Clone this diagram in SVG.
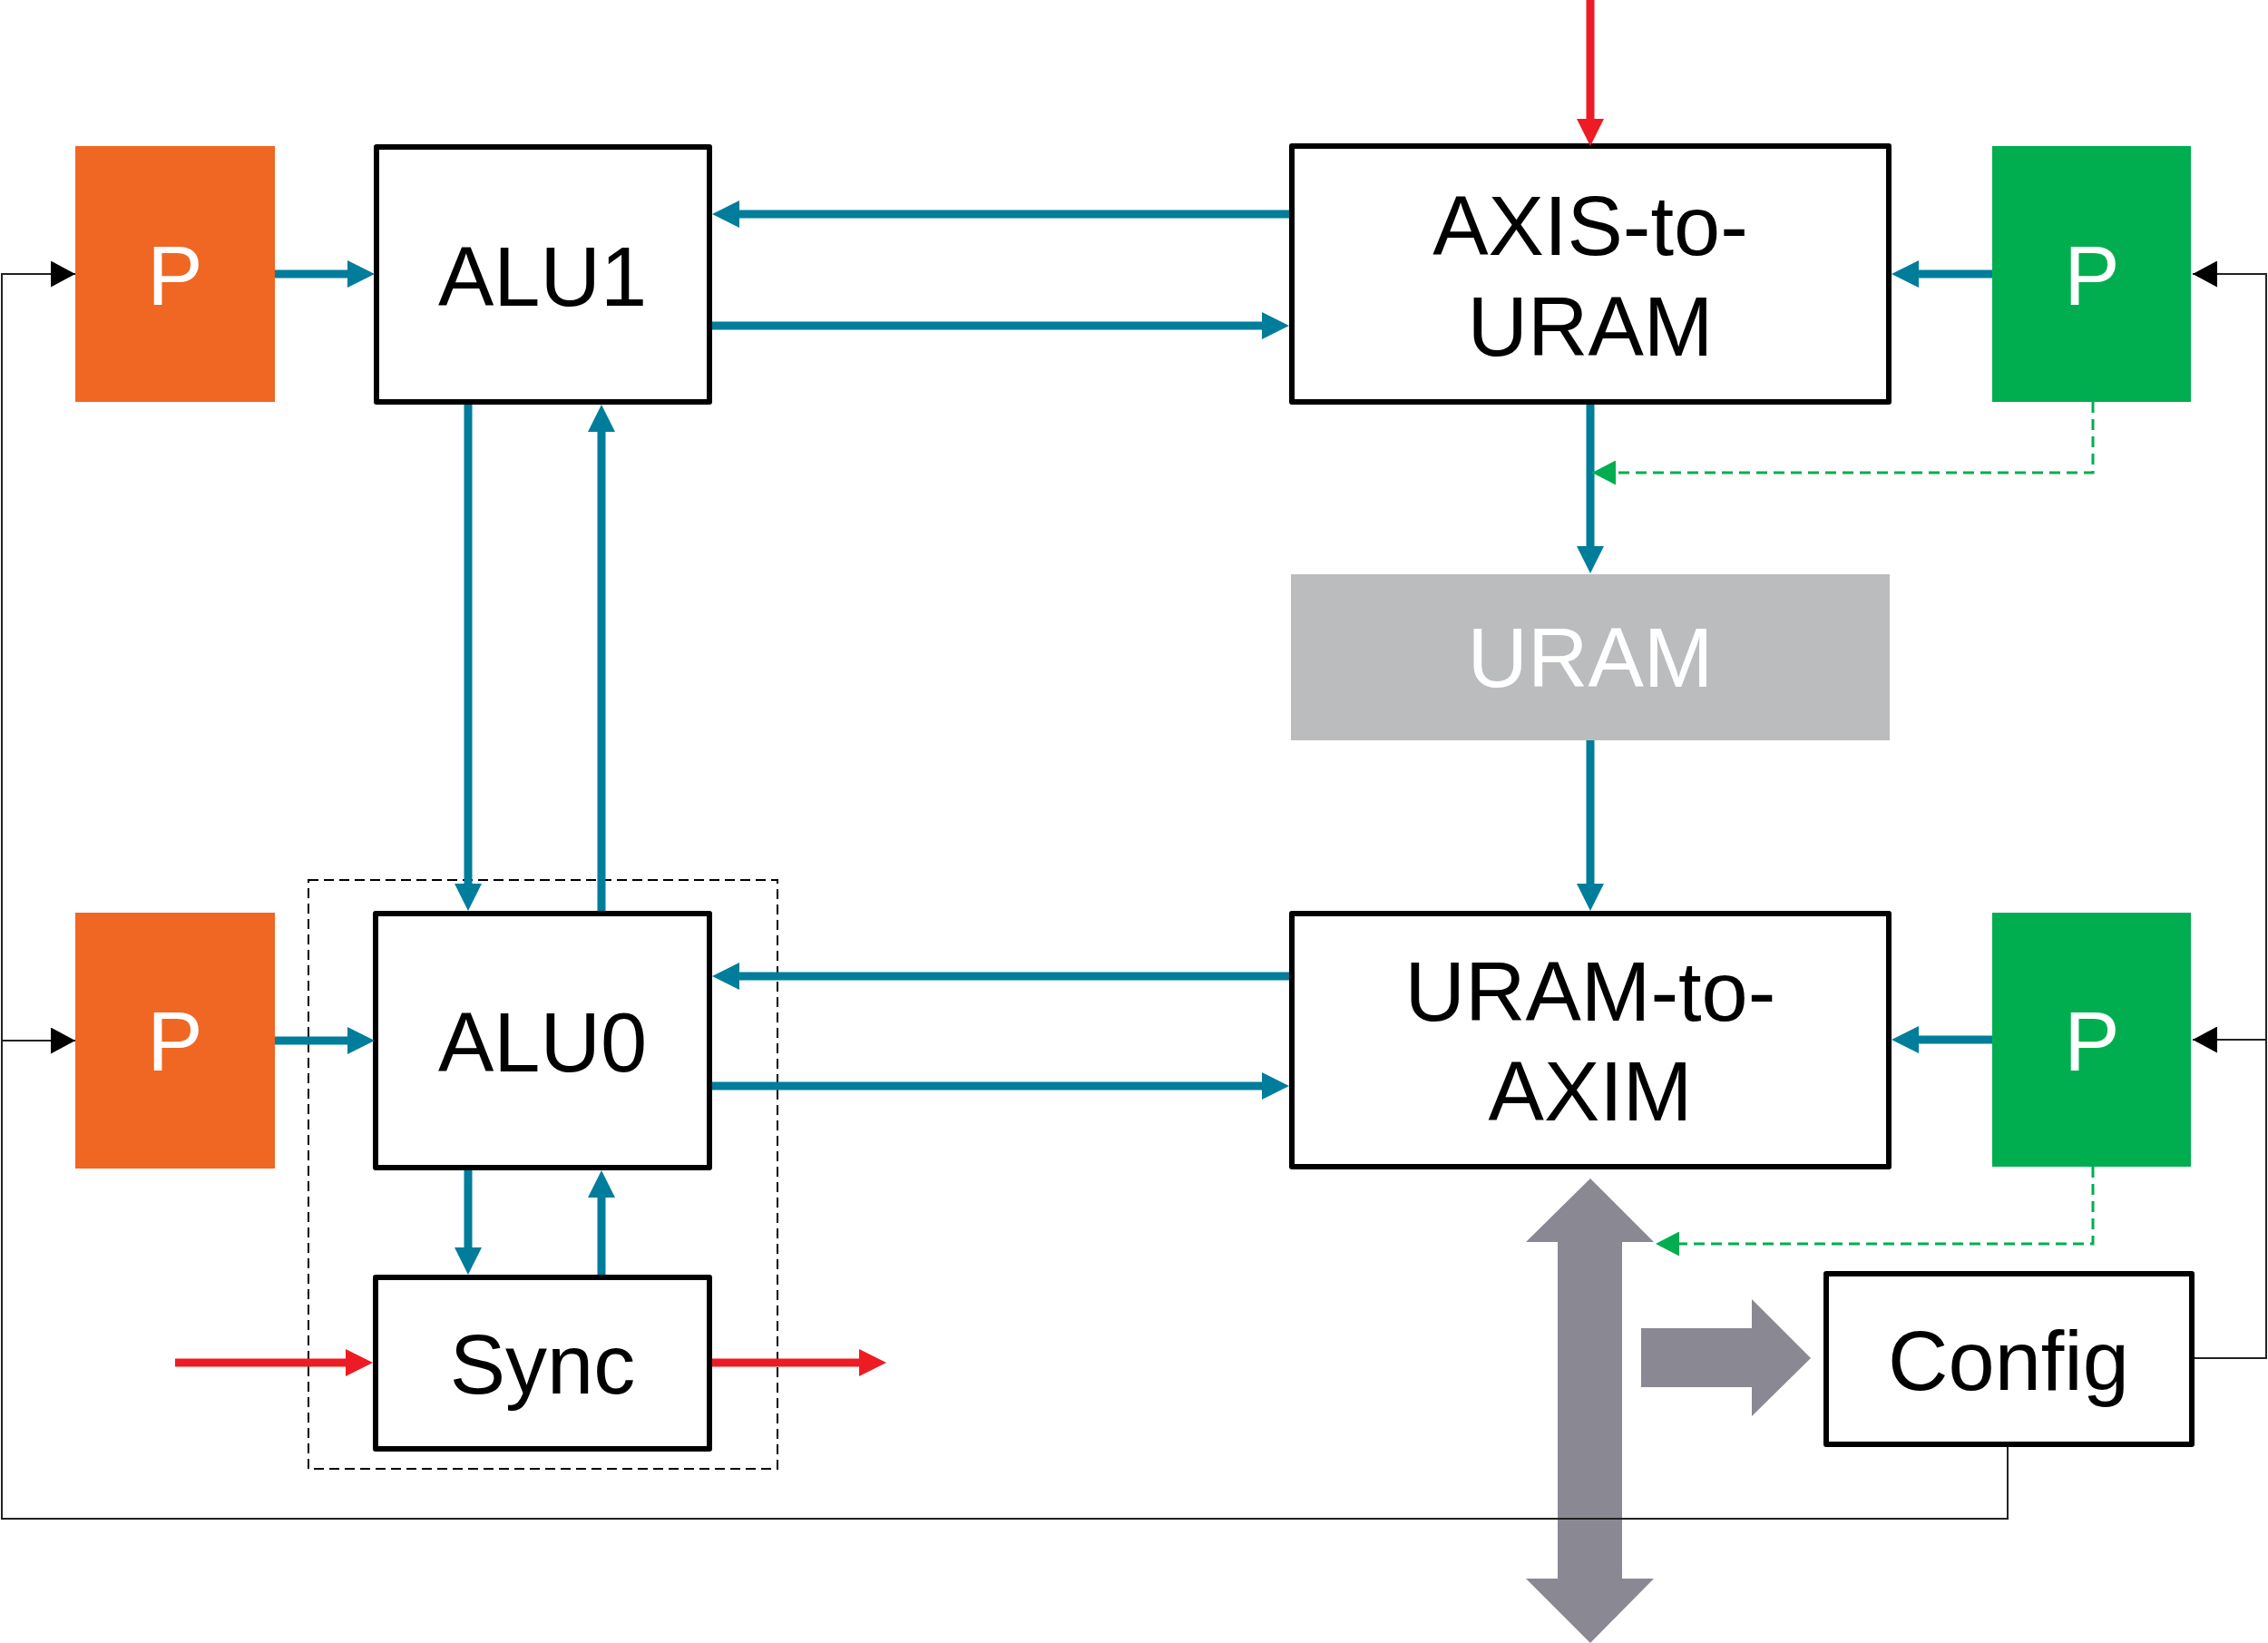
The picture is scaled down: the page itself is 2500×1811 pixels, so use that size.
<svg xmlns="http://www.w3.org/2000/svg" width="2500" height="1811" viewBox="0 0 2500 1811">
<defs>
<style>
.box{fill:#fff;stroke:#000;stroke-width:6;stroke-linejoin:round}
.lbl{font-family:"Liberation Sans",Arial,sans-serif;font-size:92px;text-anchor:middle;fill:#000}
.wl{fill:#fff}
.teal{fill:none;stroke:#007D9A;stroke-width:9}
.red{fill:none;stroke:#ED1C24;stroke-width:9}
.thin{fill:none;stroke:#222;stroke-width:2}
.gdash{fill:none;stroke:#00AE4F;stroke-width:3;stroke-dasharray:12 7}
.grp{fill:none;stroke:#000;stroke-width:2;stroke-dasharray:11 6}
</style>
<marker id="mTeal" viewBox="0 0 30 30" refX="10" refY="15" markerWidth="30" markerHeight="30" markerUnits="userSpaceOnUse" orient="auto"><path d="M0,0 L30,15 L0,30 z" fill="#007D9A"/></marker>
<marker id="mRed" viewBox="0 0 30 30" refX="10" refY="15" markerWidth="30" markerHeight="30" markerUnits="userSpaceOnUse" orient="auto"><path d="M0,0 L30,15 L0,30 z" fill="#ED1C24"/></marker>
<marker id="mBlk" viewBox="0 0 27 29" refX="27" refY="14.5" markerWidth="27" markerHeight="29" markerUnits="userSpaceOnUse" orient="auto"><path d="M0,0 L27,14.5 L0,29 z" fill="#000"/></marker>
<marker id="mGrn" viewBox="0 0 26 27" refX="26" refY="13.5" markerWidth="26" markerHeight="27" markerUnits="userSpaceOnUse" orient="auto"><path d="M0,0 L26,13.5 L0,27 z" fill="#00AE4F"/></marker>
</defs>
<rect width="2500" height="1811" fill="#fff"/>

<g id="group-alu0-sync"><rect class="grp" x="340" y="970" width="517" height="649"/></g>

<g id="p-alu1"><rect x="83" y="161" width="220" height="282" fill="#F06623"/><text class="lbl wl" x="193" y="336">P</text></g>
<g id="alu1"><rect class="box" x="415" y="162" width="367" height="281"/><text class="lbl" x="598" y="337">ALU1</text></g>
<g id="axis-to-uram"><rect class="box" x="1424" y="161" width="658" height="282"/><text class="lbl" x="1753" y="281">AXIS-to-</text><text class="lbl" x="1753" y="392">URAM</text></g>
<g id="p-axis"><rect x="2196" y="161" width="219" height="282" fill="#00AE4F"/><text class="lbl wl" x="2306" y="336">P</text></g>
<g id="uram"><rect x="1423" y="633" width="660" height="183" fill="#BBBCBE"/><text class="lbl wl" x="1753" y="757">URAM</text></g>
<g id="p-alu0"><rect x="83" y="1006" width="220" height="282" fill="#F06623"/><text class="lbl wl" x="193" y="1180">P</text></g>
<g id="alu0"><rect class="box" x="414" y="1007" width="368" height="280"/><text class="lbl" x="598" y="1181">ALU0</text></g>
<g id="uram-to-axim"><rect class="box" x="1424" y="1007" width="658" height="279"/><text class="lbl" x="1753" y="1125">URAM-to-</text><text class="lbl" x="1753" y="1235">AXIM</text></g>
<g id="p-axim"><rect x="2196" y="1006" width="219" height="280" fill="#00AE4F"/><text class="lbl wl" x="2306" y="1180">P</text></g>
<g id="sync"><rect class="box" x="414" y="1408" width="368" height="189"/><text class="lbl" x="598" y="1536">Sync</text></g>
<g id="config"><rect class="box" x="2013" y="1404" width="403" height="188"/><text class="lbl" x="2214" y="1532">Config</text></g>

<g id="bus" fill="#8A8893">
<polygon points="1753,1299 1823,1369 1788,1369 1788,1740 1823,1740 1753,1811 1682,1740 1717,1740 1717,1369 1682,1369"/>
<polygon points="1809,1464 1931,1464 1931,1432 1996,1497 1931,1561 1931,1529 1809,1529"/>
</g>

<g id="connectors">
<path class="teal" marker-end="url(#mTeal)" d="M303,302 H393"/>
<path class="teal" marker-end="url(#mTeal)" d="M1421,236 H805"/>
<path class="teal" marker-end="url(#mTeal)" d="M785,359 H1401"/>
<path class="teal" marker-end="url(#mTeal)" d="M516,446 V984"/>
<path class="teal" marker-end="url(#mTeal)" d="M663,1004 V466"/>
<path class="teal" marker-end="url(#mTeal)" d="M1753,446 V612"/>
<path class="teal" marker-end="url(#mTeal)" d="M1753,816 V984"/>
<path class="teal" marker-end="url(#mTeal)" d="M2196,302 H2105"/>
<path class="teal" marker-end="url(#mTeal)" d="M2196,1146 H2105"/>
<path class="teal" marker-end="url(#mTeal)" d="M303,1147 H393"/>
<path class="teal" marker-end="url(#mTeal)" d="M1421,1076 H805"/>
<path class="teal" marker-end="url(#mTeal)" d="M785,1197 H1401"/>
<path class="teal" marker-end="url(#mTeal)" d="M516,1290 V1385"/>
<path class="teal" marker-end="url(#mTeal)" d="M663,1405 V1310"/>

<path class="red" marker-end="url(#mRed)" d="M1753,0 V141"/>
<path class="red" marker-end="url(#mRed)" d="M193,1502 H391"/>
<path class="red" marker-end="url(#mRed)" d="M785,1502 H957"/>

<path class="gdash" marker-end="url(#mGrn)" d="M2307,443 V521 H1755"/>
<path class="gdash" marker-end="url(#mGrn)" d="M2307,1286 V1371 H1825"/>

<path class="thin" marker-end="url(#mBlk)" d="M2213,1595 V1674 H2 V302 H83"/>
<path class="thin" marker-end="url(#mBlk)" d="M2 1147 H83"/>
<path class="thin" marker-end="url(#mBlk)" d="M2419,1497 H2498 V302 H2417"/>
<path class="thin" marker-end="url(#mBlk)" d="M2498,1146 H2417"/>
</g>
</svg>
